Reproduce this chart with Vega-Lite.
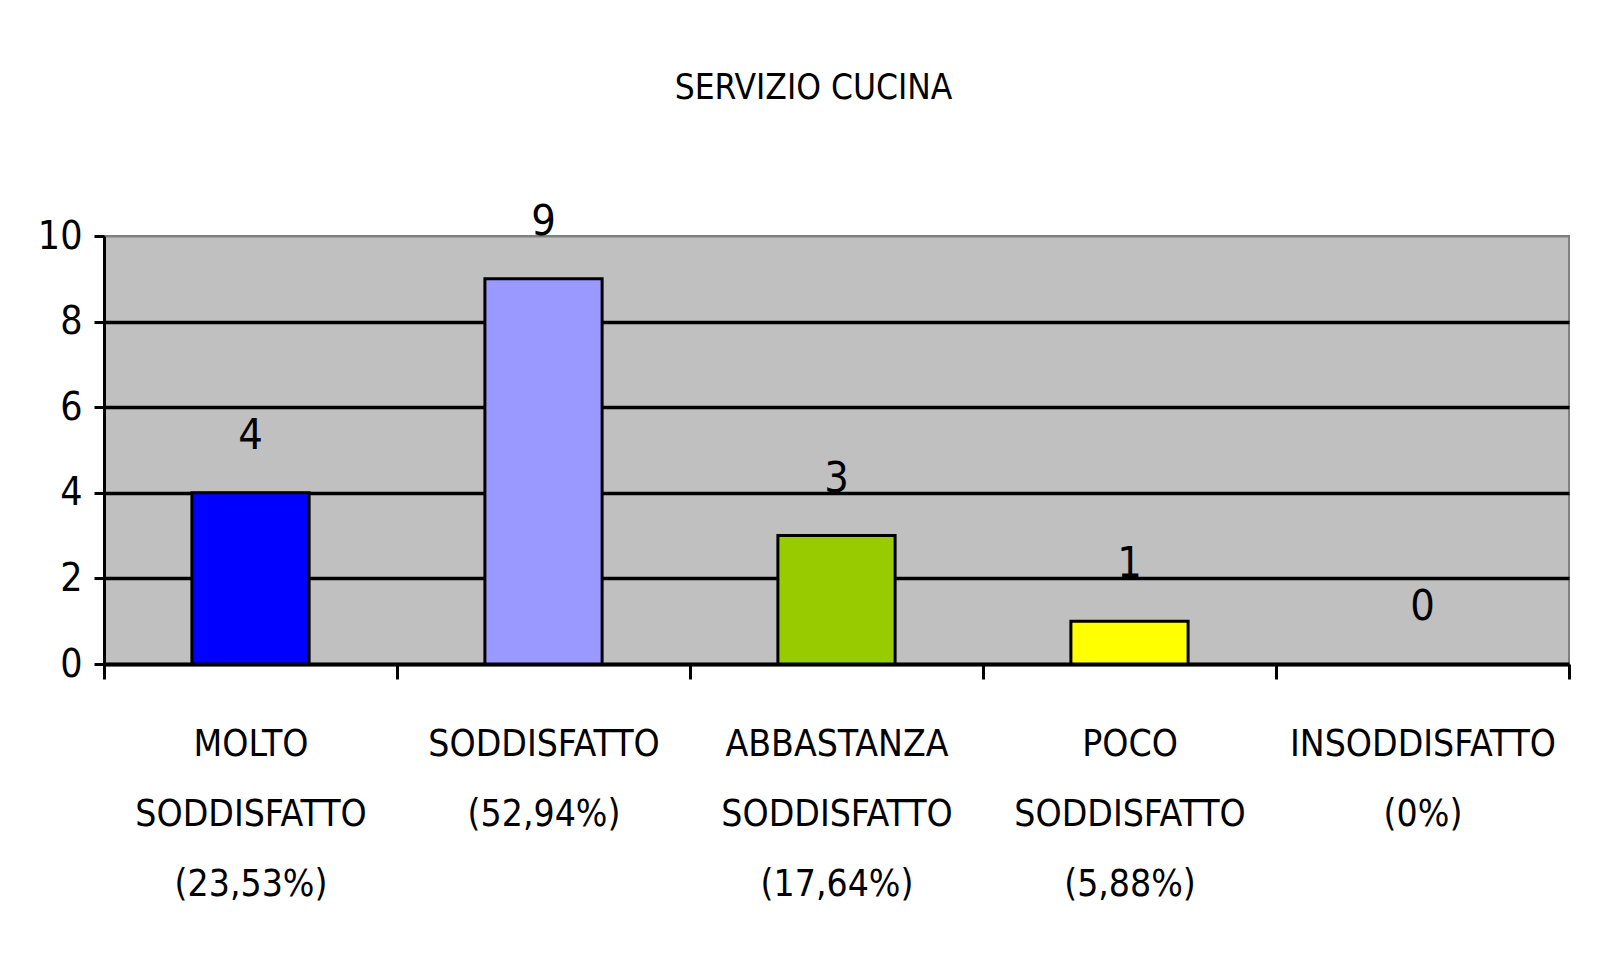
{
  "$schema": "https://vega.github.io/schema/vega-lite/v6.json",
  "autosize": "none",
  "width": 1465,
  "height": 428,
  "padding": {"left": 104, "top": 236, "right": 40, "bottom": 306},
  "background": "white",
  "title": {
    "text": "SERVIZIO CUCINA",
    "font": "DejaVu Sans Condensed, Liberation Sans, sans-serif",
    "fontSize": 35,
    "fontWeight": "normal",
    "color": "black",
    "anchor": "middle",
    "baseline": "alphabetic",
    "dx": -23,
    "offset": 67
  },
  "data": {
    "values": [
      {"categoria": "MOLTO SODDISFATTO (23,53%)", "valore": 4, "colore": "#0000FF"},
      {"categoria": "SODDISFATTO (52,94%)", "valore": 9, "colore": "#9999FF"},
      {"categoria": "ABBASTANZA SODDISFATTO (17,64%)", "valore": 3, "colore": "#99CC00"},
      {"categoria": "POCO SODDISFATTO (5,88%)", "valore": 1, "colore": "#FFFF00"},
      {"categoria": "INSODDISFATTO (0%)", "valore": 0, "colore": "#C0C0C0"}
    ]
  },
  "encoding": {
    "x": {
      "field": "categoria",
      "type": "nominal",
      "sort": null,
      "scale": {"paddingInner": 0, "paddingOuter": 0},
      "axis": {
        "title": null,
        "labelAngle": 0,
        "labelExpr": "split(datum.label, ' ')",
        "labelFont": "DejaVu Sans Condensed, Liberation Sans, sans-serif",
        "labelFontSize": 37,
        "labelColor": "black",
        "labelBaseline": "alphabetic",
        "labelLineHeight": 70,
        "labelPadding": 76,
        "labelLimit": 0,
        "tickBand": "extent",
        "tickSize": 15,
        "tickWidth": 3,
        "tickColor": "black",
        "domainColor": "black",
        "domainWidth": 4,
        "grid": false
      }
    },
    "y": {
      "field": "valore",
      "type": "quantitative",
      "scale": {"domain": [0, 10], "nice": false},
      "axis": {
        "title": null,
        "values": [0, 2, 4, 6, 8, 10],
        "labelFont": "DejaVu Sans Condensed, Liberation Sans, sans-serif",
        "labelFontSize": 39,
        "labelColor": "black",
        "labelPadding": 12,
        "tickSize": 10,
        "tickWidth": 3,
        "tickColor": "black",
        "domainColor": "black",
        "domainWidth": 3,
        "grid": true,
        "gridColor": {"condition": {"test": "datum.value == 10 || datum.value == 0", "value": "#808080"}, "value": "black"},
        "gridWidth": {"condition": {"test": "datum.value == 10", "value": 2}, "value": 3.5},
        "gridOpacity": 1
      }
    }
  },
  "layer": [
    {
      "mark": {"type": "bar", "stroke": "black", "strokeWidth": 3, "width": {"band": 0.4}},
      "encoding": {
        "color": {"field": "colore", "type": "nominal", "scale": null, "legend": null},
        "opacity": {"condition": {"test": "datum.valore == 0", "value": 0}, "value": 1}
      }
    },
    {
      "mark": {
        "type": "text",
        "baseline": "alphabetic",
        "align": "center",
        "dy": -44,
        "font": "DejaVu Sans Condensed, Liberation Sans, sans-serif",
        "fontSize": 43,
        "color": "black"
      },
      "encoding": {
        "text": {"field": "valore", "type": "quantitative"}
      }
    }
  ],
  "config": {
    "view": {"fill": "#C0C0C0", "stroke": "#808080", "strokeWidth": 2}
  }
}
